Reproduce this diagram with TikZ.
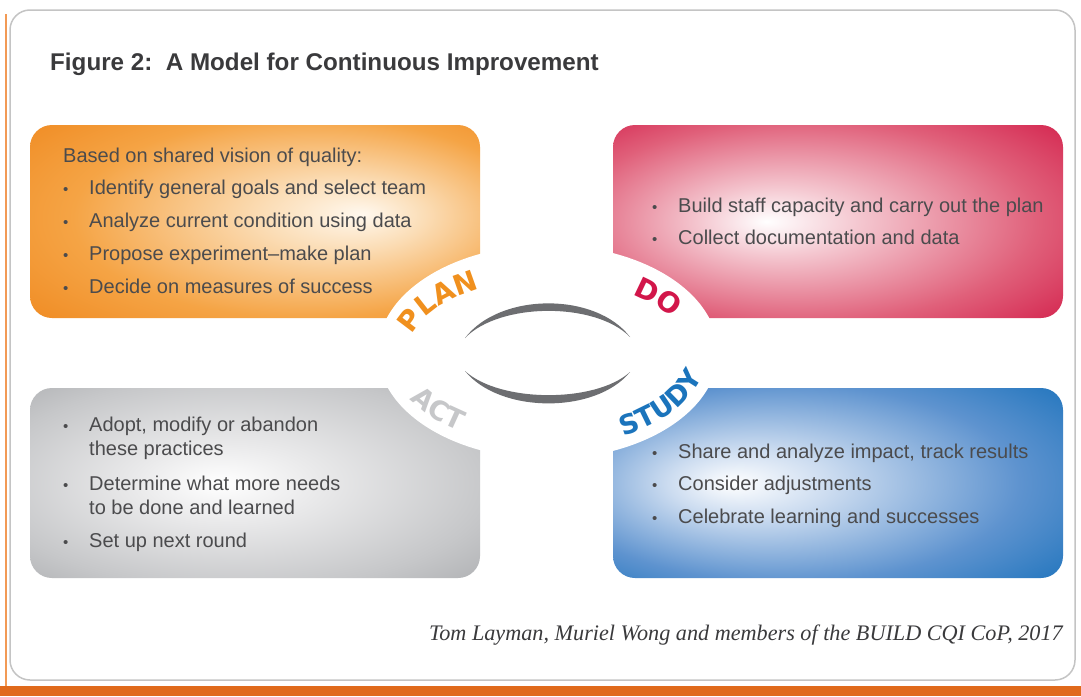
\documentclass[tikz,border=0pt]{standalone}
\usepackage{fontspec}
\setmainfont{Liberation Sans}
\newfontfamily\citefont{Liberation Serif}
\newfontfamily\lblfont{DejaVu Sans}
\usetikzlibrary{decorations.text}

\definecolor{planC}{HTML}{EE8419}
\definecolor{planMid}{HTML}{F5A445}
\definecolor{planLt}{HTML}{FBDDB6}
\definecolor{planIn}{HTML}{FFF8EE}
\definecolor{doC}{HTML}{CF0E3E}
\definecolor{doMid}{HTML}{E0607A}
\definecolor{doLt}{HTML}{F4C6CF}
\definecolor{actC}{HTML}{9FA1A4}
\definecolor{actMid}{HTML}{C6C7C9}
\definecolor{actLt}{HTML}{EAEAEB}
\definecolor{stC}{HTML}{0F6CB8}
\definecolor{stMid}{HTML}{5E93CF}
\definecolor{stLt}{HTML}{CCDCF0}
\definecolor{txtC}{HTML}{4B4B4D}
\definecolor{titleC}{HTML}{3A3A3C}
\definecolor{frameC}{HTML}{C4C4C4}
\definecolor{barC}{HTML}{E06A1C}
\definecolor{lineC}{HTML}{F29A55}
\definecolor{swC}{HTML}{6D6E71}
\definecolor{planL}{HTML}{F0901E}
\definecolor{doL}{HTML}{D2164A}
\definecolor{actL}{HTML}{C6C7C9}
\definecolor{stL}{HTML}{1B74BC}

\pgfdeclareradialshading{planshade}{\pgfpoint{12bp}{2bp}}{color(0bp)=(planIn); color(9bp)=(planLt); color(26bp)=(planMid); color(42bp)=(planC); color(50bp)=(planC)}
\pgfdeclareradialshading{doshade}{\pgfpoint{-8bp}{0bp}}{color(0bp)=(white); color(9bp)=(doLt); color(26bp)=(doMid); color(42bp)=(doC); color(50bp)=(doC)}
\pgfdeclareradialshading{actshade}{\pgfpoint{-4bp}{0bp}}{color(0bp)=(white); color(10bp)=(actLt); color(28bp)=(actMid); color(44bp)=(actC); color(50bp)=(actC)}
\pgfdeclareradialshading{stshade}{\pgfpoint{-12bp}{0bp}}{color(0bp)=(white); color(9bp)=(stLt); color(26bp)=(stMid); color(42bp)=(stC); color(50bp)=(stC)}

\tikzset{
  box/.style={rounded corners=22pt},
  txt/.style={anchor=base west, inner sep=0pt, text=txtC, font=\fontsize{20}{24}\selectfont},
  bul/.style={anchor=base west, inner sep=0pt, text=txtC, font=\fontsize{15}{15}\selectfont},
  swoosh/.style={fill=swC},
}

\begin{document}
\begin{tikzpicture}[x=1pt,y=-1pt]
\useasboundingbox (0,0) rectangle (1081,696);
\fill[white] (0,0) rectangle (1081,696);

% frame and orange accents
\draw[frameC, line width=1.5pt, rounded corners=20pt] (10,10) rectangle (1075,680);
\draw[lineC, line width=1.6pt] (6,14) -- (6,688);
\fill[barC] (0,686) rectangle (1081,696);

% title
\node[anchor=base west, inner sep=0pt, text=titleC, font=\bfseries\fontsize{24.2}{27}\selectfont] (title) at (50,70) {Figure 2:\ \ A Model for Continuous Improvement};

% four boxes
\path[box, shading=planshade] (30,125) rectangle (480,318);
\path[box, shading=doshade] (613,125) rectangle (1063,318);
\path[box, shading=actshade] (30,388) rectangle (480,578);
\path[box, shading=stshade] (613,388) rectangle (1063,578);

% central white ellipse
\fill[white] (548,352) ellipse [x radius=170, y radius=107];

% swooshes
\path[swoosh] (465,338) .. controls (500,292) and (596,292) .. (630,337) .. controls (596,302) and (500,302) .. cycle;
\path[swoosh] (465,371) .. controls (500,414) and (596,414) .. (630,372) .. controls (596,403) and (500,403) .. cycle;

% labels on arcs
\path[decorate, decoration={text along path, text align=left,
  text={|\lblfont\bfseries\fontsize{28}{28}\selectfont\color{planL}|PLAN}}]
  (548,352) ++(194:140 and 72) arc[start angle=194, end angle=300, x radius=140, y radius=72];
\path[decorate, decoration={text along path, text align=left,
  text={|\lblfont\bfseries\fontsize{28}{28}\selectfont\color{doL}|DO}}]
  (548,352) ++(307:140 and 72) arc[start angle=307, end angle=360, x radius=140, y radius=72];
\path[decorate, decoration={text along path, text align=left,
  text={|\lblfont\bfseries\fontsize{27}{27}\selectfont\color{actL}|ACT}}]
  (548,352) ++(150:160 and 95) arc[start angle=150, end angle=90, x radius=160, y radius=95];
\path[decorate, decoration={text along path, text align=left,
  text={|\lblfont\bfseries\fontsize{27}{27}\selectfont\color{stL}|STUDY}}]
  (548,352) ++(62:160 and 95) arc[start angle=62, end angle=0, x radius=160, y radius=95];

% PLAN text
\node[txt] (p0) at (63,162) {Based on shared vision of quality:};
\node[bul] (pb1) at (63,194) {•};
\node[txt] (p1) at (89,194) {Identify general goals and select team};
\node[bul] (pb2) at (63,227) {•};
\node[txt] (p2) at (89,227) {Analyze current condition using data};
\node[bul] (pb3) at (63,260) {•};
\node[txt] (p3) at (89,260) {Propose experiment–make plan};
\node[bul] (pb4) at (63,293) {•};
\node[txt] (p4) at (89,293) {Decide on measures of success};

% DO text
\node[bul] (db1) at (652,212) {•};
\node[txt] (d1) at (678,212) {Build staff capacity and carry out the plan};
\node[bul] (db2) at (652,244) {•};
\node[txt] (d2) at (678,244) {Collect documentation and data};

% ACT text
\node[bul] (ab1) at (63,431) {•};
\node[txt] (a1) at (89,431) {Adopt, modify or abandon};
\node[txt] (a1b) at (89,455) {these practices};
\node[bul] (ab2) at (63,490) {•};
\node[txt] (a2) at (89,490) {Determine what more needs};
\node[txt] (a2b) at (89,514) {to be done and learned};
\node[bul] (ab3) at (63,547) {•};
\node[txt] (a3) at (89,547) {Set up next round};

% STUDY text
\node[bul] (sb1) at (652,458) {•};
\node[txt] (s1) at (678,458) {Share and analyze impact, track results};
\node[bul] (sb2) at (652,490) {•};
\node[txt] (s2) at (678,490) {Consider adjustments};
\node[bul] (sb3) at (652,523) {•};
\node[txt] (s3) at (678,523) {Celebrate learning and successes};

% citation
\node[anchor=base east, inner sep=0pt, text=titleC, font=\citefont\itshape\fontsize{22.2}{26}\selectfont] (cite) at (1063,640) {Tom Layman, Muriel Wong and members of the BUILD CQI CoP, 2017};
\end{tikzpicture}
\end{document}
